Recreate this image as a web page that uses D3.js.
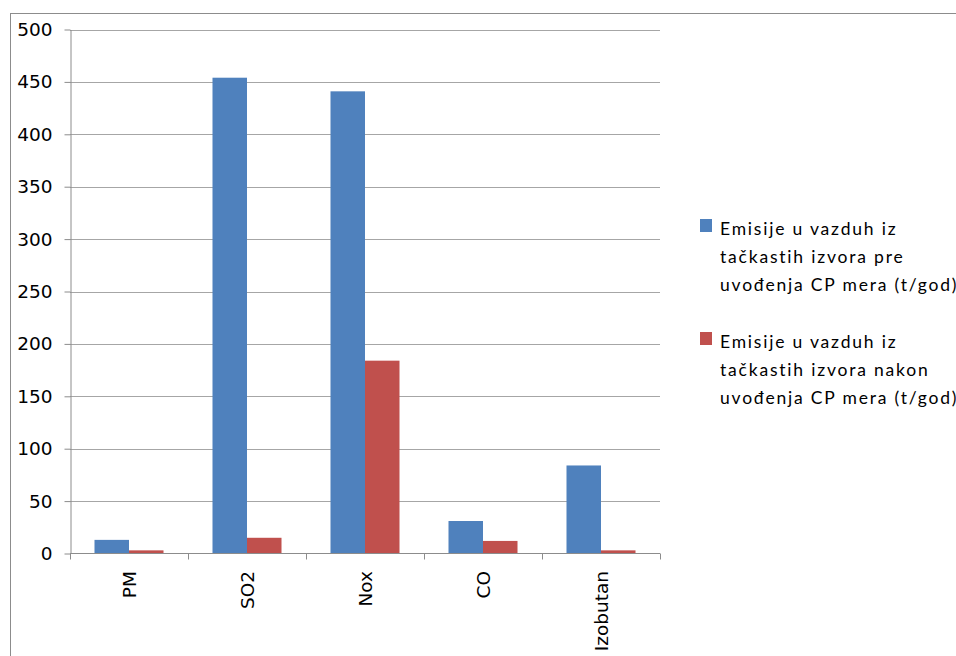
<!DOCTYPE html>
<html>
<head>
<meta charset="utf-8">
<script src="https://cdn.jsdelivr.net/npm/d3@7"></script>
<style>
  html, body { margin: 0; padding: 0; background: #fff; overflow: hidden; }
  svg { display: block; }
</style>
</head>
<body>
<svg id="chart" width="956" height="656"></svg>
<script>
// Emission categories and values (t/god)
const categories = ["PM", "SO2", "Nox", "CO", "Izobutan"];
const valuesBefore = [13, 454, 441, 31, 84];
const valuesAfter = [3, 15, 184, 12, 3];
const yTicks = [0, 50, 100, 150, 200, 250, 300, 350, 400, 450, 500];
const seriesNames = [
  ["Emisije u vazduh iz", "tačkastih izvora pre", "uvođenja CP mera (t/god)"],
  ["Emisije u vazduh iz", "tačkastih izvora nakon", "uvođenja CP mera (t/god)"]
];
const seriesColors = ["#4F81BD", "#C0504D"];

const svg = d3.select("#chart");

// outer chart frame
svg.append("rect")
  .attr("x", 10.5).attr("y", 13.5)
  .attr("width", 1000).attr("height", 700)
  .attr("fill", "none").attr("stroke", "#8c8c8c").attr("stroke-width", 1);

const plot = { left: 70, right: 660, top: 29.5, bottom: 553.5 };

const x = d3.scaleBand().domain(categories).range([plot.left, plot.right]).paddingInner(0).paddingOuter(0);
const inner = d3.scaleBand().domain([0, 1]).range([0, x.bandwidth()]).paddingOuter(0.71).paddingInner(0);
const y = d3.scaleLinear().domain([0, 500]).range([plot.bottom, plot.top]);

// horizontal gridlines
svg.append("g").selectAll("line").data(yTicks.filter(d => d > 0)).join("line")
  .attr("x1", plot.left).attr("x2", plot.right)
  .attr("y1", d => Math.round(y(d)) + 0.5).attr("y2", d => Math.round(y(d)) + 0.5)
  .attr("stroke", "#a6a6a6").attr("stroke-width", 1);

// bars
const series = [valuesBefore, valuesAfter];
series.forEach((vals, si) => {
  svg.append("g").selectAll("rect").data(categories).join("rect")
    .attr("x", c => x(c) + inner(si))
    .attr("width", inner.bandwidth())
    .attr("y", (c, i) => y(vals[i]))
    .attr("height", (c, i) => plot.bottom - y(vals[i]))
    .attr("fill", seriesColors[si]);
});

// y axis
const yAxis = svg.append("g").attr("transform", `translate(${plot.left + 0.5},0)`)
  .call(d3.axisLeft(y).tickValues(yTicks).tickSize(6).tickSizeOuter(0).tickPadding(12));
yAxis.select(".domain").attr("stroke", "#8c8c8c");
yAxis.selectAll(".tick line").attr("stroke", "#8c8c8c");
yAxis.selectAll(".tick text")
  .attr("font-family", "DejaVu Sans, Verdana, sans-serif")
  .attr("font-size", 18.5).attr("fill", "#000");

// x axis with boundary ticks
const xg = svg.append("g");
xg.append("line")
  .attr("x1", plot.left).attr("x2", plot.right)
  .attr("y1", plot.bottom).attr("y2", plot.bottom)
  .attr("stroke", "#8c8c8c");
const bounds = categories.map(c => x(c)).concat([plot.right]);
xg.selectAll("line.tk").data(bounds).join("line").attr("class", "tk")
  .attr("x1", d => Math.round(d) + 0.5).attr("x2", d => Math.round(d) + 0.5)
  .attr("y1", plot.bottom).attr("y2", plot.bottom + 6)
  .attr("stroke", "#8c8c8c");

// rotated category labels
xg.selectAll("text").data(categories).join("text")
  .attr("transform", c => `translate(${x(c) + x.bandwidth() / 2 + 7},571) rotate(-90)`)
  .attr("text-anchor", "end")
  .attr("font-family", "DejaVu Sans, Verdana, sans-serif")
  .attr("font-size", 18.5).attr("fill", "#000")
  .text(c => c);

// legend
const legend = svg.append("g");
seriesNames.forEach((lines, si) => {
  const top = 219 + si * 113;
  legend.append("rect")
    .attr("x", 700).attr("y", top).attr("width", 12).attr("height", 13)
    .attr("fill", seriesColors[si]);
  const t = legend.append("text")
    .attr("font-family", "Lato, 'Open Sans', sans-serif")
    .attr("font-size", 17.5).attr("fill", "#000")
    .attr("letter-spacing", 1.8);
  t.selectAll("tspan").data(lines).join("tspan")
    .attr("x", 720).attr("y", (d, i) => top + 16 + i * 28)
    .text(d => d);
});
</script>
</body>
</html>
